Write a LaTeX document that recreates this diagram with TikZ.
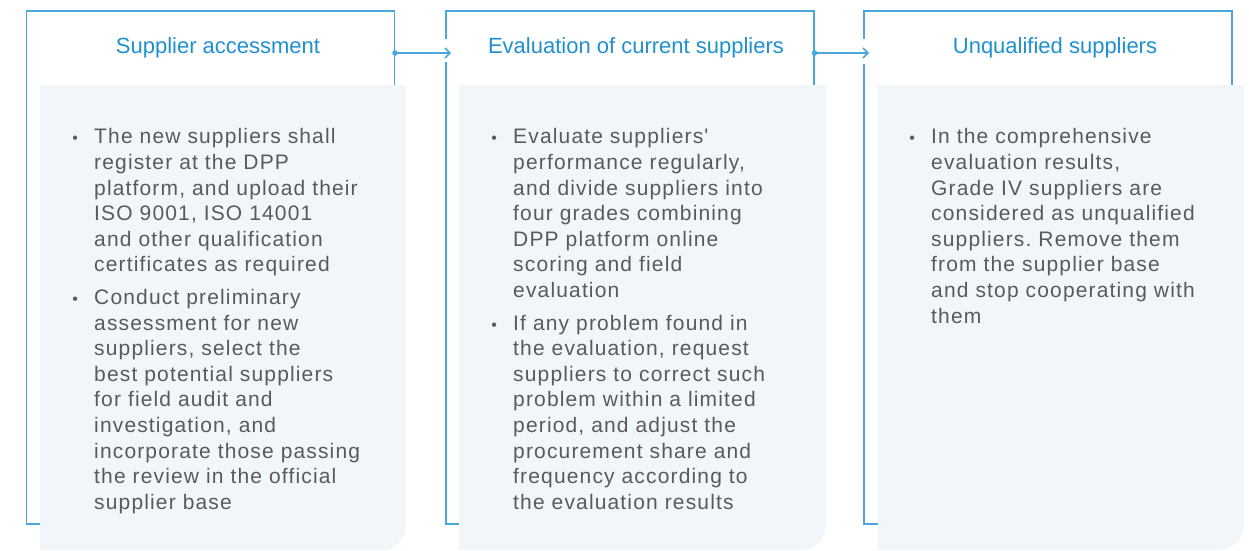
\documentclass[tikz,border=0pt]{standalone}
\usepackage{fontspec}
\setmainfont{Liberation Sans}
\newfontfamily\fliesstext[LetterSpace=5.5]{Liberation Sans}
\usetikzlibrary{arrows.meta,positioning}

\definecolor{rahmen}{HTML}{4AA8DC}
\definecolor{titel}{HTML}{1E90D0}
\definecolor{feld}{HTML}{F1F6FA}
\definecolor{schrift}{HTML}{5A5A5A}

\frenchspacing
\newenvironment{punkte}{\begin{list}{\makebox[0pt][c]{\fontsize{16}{16}\selectfont\textbullet}}{%
    \setlength\leftmargin{19pt}\setlength\labelwidth{0pt}\setlength\labelsep{19pt}%
    \setlength\itemsep{7pt}\setlength\parsep{0pt}\setlength\topsep{0pt}\setlength\partopsep{0pt}}}%
  {\end{list}}

\begin{document}
\begin{tikzpicture}[
        x=1pt, y=-1pt,
        kasten/.style={draw=rahmen, line width=1.5pt, anchor=north west, minimum width=368pt, minimum height=513pt},
        titel/.style={text=titel, font=\fontsize{22}{26}\selectfont, inner sep=0pt},
        liste/.style={anchor=north west, text width=330pt, inner sep=0pt, text=schrift, align=left,
            font=\fliesstext\fontsize{21}{25.6}\selectfont},
        pfeil/.style={draw=rahmen, line width=1.5pt, {Circle[length=5.5pt]}-{Straight Barb[length=5pt,width=10pt]}, shorten <=-2.75pt}
    ]
        \useasboundingbox (0,0) rectangle (1249,550);

        \node[kasten] (acc) at (25.5,10) {};
        \node[kasten] (eval) at (445,10) {};
        \node[kasten] (unq) at (863,10) {};

        \fill[feld] (40,85) -- (406,85) -- (406,525) arc[start angle=0, end angle=-90, radius=25pt] -- (40,550) -- cycle;
        \fill[feld] (459,85) -- (826,85) -- (826,525) arc[start angle=0, end angle=-90, radius=25pt] -- (459,550) -- cycle;
        \fill[feld] (878,85) -- (1244,85) -- (1244,525) arc[start angle=0, end angle=-90, radius=25pt] -- (878,550) -- cycle;

        \node[titel] (t1) at (218,48) {Supplier accessment};
        \node[titel] (t2) at (636,48) {Evaluation of current suppliers};
        \node[titel] (t3) at (1055,48) {Unqualified suppliers};

        \node[liste] (l1) at (75,118) {\begin{punkte}
            \item The new suppliers shall\\register at the DPP\\platform, and upload their\\ISO 9001, ISO 14001\\and other qualification\\certificates as required
            \item Conduct preliminary\\assessment for new\\suppliers, select the\\best potential suppliers\\for field audit and\\investigation, and\\incorporate those passing\\the review in the official\\supplier base
        \end{punkte}};
        \node[liste] (l2) at (494,118) {\begin{punkte}
            \item Evaluate suppliers'\\performance regularly,\\and divide suppliers into\\four grades combining\\DPP platform online\\scoring and field\\evaluation
            \item If any problem found in\\the evaluation, request\\suppliers to correct such\\problem within a limited\\period, and adjust the\\procurement share and\\frequency according to\\the evaluation results
        \end{punkte}};
        \node[liste] (l3) at (912,118) {\begin{punkte}
            \item In the comprehensive\\evaluation results,\\Grade IV suppliers are\\considered as unqualified\\suppliers. Remove them\\from the supplier base\\and stop cooperating with\\them
        \end{punkte}};

        % Luecken im Rahmen fuer die Pfeile
        \draw[white, line width=3pt] ([yshift=-29pt]eval.north west) -- ([yshift=-52pt]eval.north west);
        \draw[white, line width=3pt] ([yshift=-29pt]unq.north west) -- ([yshift=-54pt]unq.north west);

        \draw[pfeil] ([yshift=-43pt]acc.north east) -- ([yshift=-43pt, xshift=6pt]eval.north west);
        \draw[pfeil] ([yshift=-43pt]eval.north east) -- ([yshift=-43pt, xshift=6pt]unq.north west);
    \end{tikzpicture}
\end{document}
